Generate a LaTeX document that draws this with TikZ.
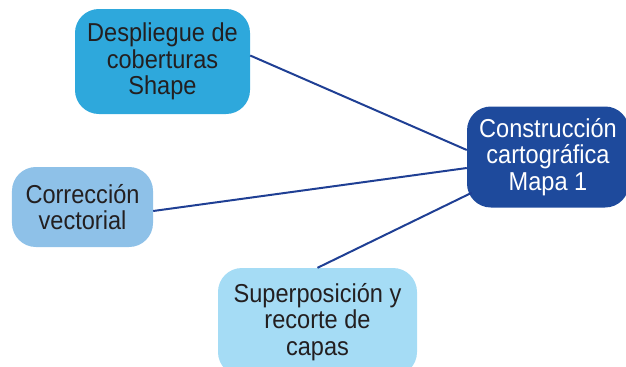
\documentclass[tikz,border=0pt]{standalone}
\usepackage{fontspec}
\setmainfont[FakeStretch=0.91]{Liberation Sans}
\usepackage{tikz}
\definecolor{celeste}{HTML}{2EA8DC}
\definecolor{azzurro}{HTML}{8EC1E8}
\definecolor{chiaro}{HTML}{A5DCF5}
\definecolor{blu}{HTML}{1E4A9C}
\definecolor{linea}{HTML}{1F3F94}
\definecolor{testo}{HTML}{231F20}
\tikzset{
  caja/.style={rounded corners=24pt, align=center, inner sep=0pt, text=testo,
    font=\fontsize{26}{26.5}\selectfont},
  enlace/.style={linea, line width=2pt}
}

\begin{document}
\begin{tikzpicture}[x=1bp, y=-1bp]
        \useasboundingbox (0,0) rectangle (626,366);
        % Nodos
        \node[caja, fill=celeste, minimum width=175bp, minimum height=105bp] (despliegue) at (162.5,61.5) {Despliegue de\\coberturas\\Shape};
        \node[caja, fill=azzurro, minimum width=141bp, minimum height=80bp] (correccion) at (82.5,207) {Corrección\\vectorial};
        \node[caja, fill=chiaro, minimum width=199bp, minimum height=108bp] (superposicion) at (317.5,322) {Superposición y\\recorte de\\capas};
        \node[caja, fill=blu, text=white, minimum width=162bp, minimum height=101bp] (construccion) at (548,157) {Construcción\\cartográfica\\Mapa 1};
        % Enlaces
        \draw[enlace] ([yshift=6bp]despliegue.east) -- ([yshift=7bp]construccion.west);
        \draw[enlace] ([yshift=-4bp]correccion.east) -- ([yshift=-11bp]construccion.west);
        \draw[enlace] (superposicion.north) -- ([xshift=5bp, yshift=15bp]construccion.south west);
    \end{tikzpicture}
\end{document}
